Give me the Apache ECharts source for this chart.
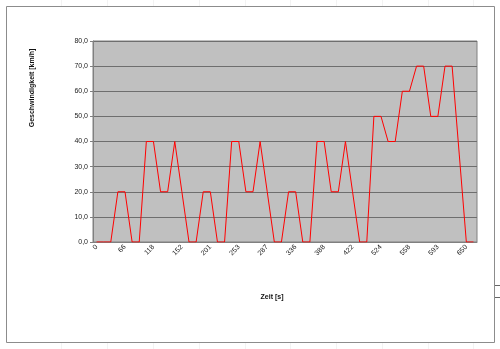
<!DOCTYPE html>
<html>
<head>
<meta charset="utf-8">
<script src="https://cdn.jsdelivr.net/npm/echarts@6/dist/echarts.min.js"></script>
<style>
  html, body { margin: 0; padding: 0; background: #fff; }
  #chart { width: 500px; height: 349px; }
</style>
</head>
<body>
<div id="chart"></div>
<script>
// Zeit [s] per category (only every 4th label shown, like the sheet)
var zeit = [0, 29, 40, 55, 66, 78, 89, 105, 118, 127, 135, 144, 152, 164, 175, 190,
  201, 213, 224, 240, 253, 262, 270, 279, 287, 299, 310, 325, 336, 348, 359, 375,
  388, 397, 405, 414, 422, 433, 444, 480, 524, 532, 540, 549, 558, 567, 576, 584,
  593, 610, 625, 640, 650, 660];

// Geschwindigkeit [km/h]
var geschwindigkeit = [0, 0, 0, 20, 20, 0, 0, 40, 40, 20, 20, 40, 20, 0, 0, 20,
  20, 0, 0, 40, 40, 20, 20, 40, 20, 0, 0, 20, 20, 0, 0, 40,
  40, 20, 20, 40, 20, 0, 0, 50, 50, 40, 40, 60, 60, 70, 70, 50,
  50, 70, 70, 35, 0, 0];

var chart = echarts.init(document.getElementById('chart'));

// faint spreadsheet cell lines behind the chart object
var sheetLines = [];
[61, 107, 153, 199, 245, 290, 336, 382, 428, 473].forEach(function (x) {
  sheetLines.push({
    type: 'line', z: -10, silent: true,
    shape: { x1: x + 0.5, y1: 0, x2: x + 0.5, y2: 349 },
    style: { stroke: '#f3f3f3', lineWidth: 1 }
  });
});

chart.setOption({
  animation: false,
  backgroundColor: '#fff',
  textStyle: { fontFamily: 'Liberation Sans, Arial, sans-serif' },
  grid: {
    left: 93, right: 23, top: 41, bottom: 107,
    show: true,
    backgroundColor: '#c0c0c0',
    borderColor: '#808080',
    borderWidth: 1
  },
  xAxis: {
    type: 'category',
    data: zeit,
    boundaryGap: true,
    axisLine: { lineStyle: { color: '#808080', width: 1 } },
    axisTick: { interval: 0, length: 3, lineStyle: { color: '#808080' } },
    axisLabel: {
      interval: 3,
      rotate: 45,
      fontSize: 7,
      color: '#222',
      margin: 4
    },
    splitLine: { show: false }
  },
  yAxis: {
    type: 'value',
    min: 0,
    max: 80,
    interval: 10,
    axisLine: { show: true, lineStyle: { color: '#808080', width: 1 } },
    axisTick: { show: true, length: 3, lineStyle: { color: '#808080' } },
    axisLabel: {
      fontSize: 7,
      color: '#222',
      margin: 5,
      formatter: function (v) { return v.toFixed(1).replace('.', ','); }
    },
    splitLine: { show: true, lineStyle: { color: '#6e6e6e', width: 1 } }
  },
  series: [
    {
      type: 'line',
      name: 'Geschwindigkeit',
      data: geschwindigkeit,
      showSymbol: false,
      lineStyle: { color: '#ff0000', width: 1 },
      itemStyle: { color: '#ff0000' }
    }
  ],
  graphic: sheetLines.concat([
    {
      type: 'rect', silent: true, z: -5,
      shape: { x: 6.5, y: 6.5, width: 488, height: 336 },
      style: { fill: '#fff', stroke: '#8c8c8c', lineWidth: 1 }
    },
    {
      type: 'line', silent: true,
      shape: { x1: 495, y1: 285.5, x2: 500, y2: 285.5 },
      style: { stroke: '#666', lineWidth: 1 }
    },
    {
      type: 'line', silent: true,
      shape: { x1: 495, y1: 297.5, x2: 500, y2: 297.5 },
      style: { stroke: '#666', lineWidth: 1 }
    },
    {
      type: 'text', silent: true,
      x: 32, y: 88, rotation: Math.PI / 2,
      style: {
        text: 'Geschwindigkeit [km/h]',
        font: 'bold 7px Liberation Sans, Arial, sans-serif',
        fill: '#111',
        align: 'center',
        verticalAlign: 'middle'
      }
    },
    {
      type: 'text', silent: true,
      x: 272, y: 297,
      style: {
        text: 'Zeit [s]',
        font: 'bold 7px Liberation Sans, Arial, sans-serif',
        fill: '#111',
        align: 'center',
        verticalAlign: 'middle'
      }
    }
  ])
});
</script>
</body>
</html>
